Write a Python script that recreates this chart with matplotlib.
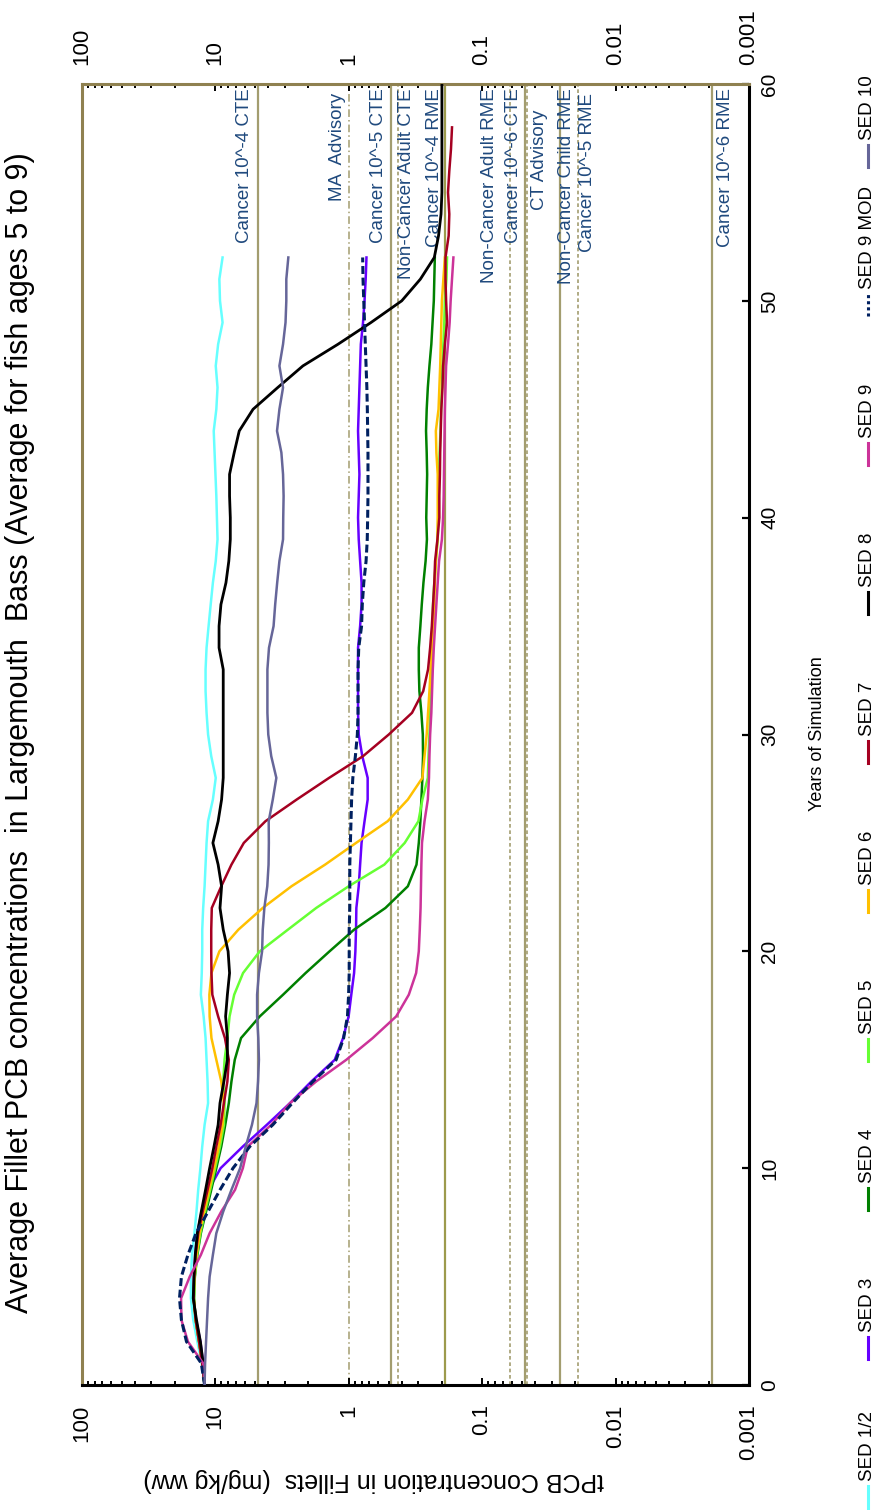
import numpy as np
import matplotlib
matplotlib.use("Agg")
import matplotlib.pyplot as plt
import matplotlib.ticker as mticker
from matplotlib.lines import Line2D

plt.rcParams['font.family'] = ['Liberation Sans', 'DejaVu Sans']

W, H = 894, 1510

years = np.arange(0, 53)
years_sed7 = np.arange(0, 59)
years_sed8 = np.arange(0, 61)

sed12 = [12, 12.6, 13.6, 14.6, 15.2, 15.2, 14.9, 14.3, 13.8, 13.4, 12.9, 12.5, 12.0, 11.3,
         11.4, 11.6, 11.8, 12.2, 12.8, 12.6, 12.5, 12.5, 12.3, 12.0, 11.8, 11.6, 11.3, 10.4,
         9.9, 10.7, 11.3, 11.6, 11.8, 11.8, 11.6, 11.2, 10.8, 10.4, 9.9, 9.6, 9.7, 9.8,
         9.95, 10.1, 10.25, 9.8, 9.6, 9.9, 9.5, 8.8, 9.2, 9.3, 8.8]
sed3 = [12, 12.3, 12.9, 13.9, 14.5, 14.4, 14.1, 13.6, 12.6, 11.2, 9.1, 6.2, 4.1, 2.75,
        1.9, 1.27, 1.10, 1.0, 0.955, 0.91, 0.89, 0.88, 0.875, 0.84, 0.82, 0.80, 0.76, 0.72,
        0.72, 0.79, 0.84, 0.85, 0.85, 0.85, 0.85, 0.82, 0.80, 0.80, 0.82, 0.84, 0.85, 0.84,
        0.83, 0.84, 0.85, 0.84, 0.83, 0.82, 0.81, 0.78, 0.76, 0.745, 0.735]
sed4 = [12, 12.5, 13.2, 14.0, 14.4, 14.2, 13.6, 12.8, 11.7, 10.7, 9.8, 9.0, 8.4, 7.9,
        7.55, 7.13, 6.4, 4.63, 3.1, 2.1, 1.39, 0.91, 0.53, 0.36, 0.31, 0.298, 0.29, 0.285,
        0.28, 0.277, 0.278, 0.285, 0.295, 0.298, 0.298, 0.29, 0.283, 0.275, 0.265, 0.259,
        0.262, 0.26, 0.258, 0.26, 0.263, 0.26, 0.255, 0.248, 0.24, 0.235, 0.23, 0.228, 0.226]
sed5 = [12, 12.5, 13.2, 14.0, 14.4, 14.2, 13.7, 12.9, 11.9, 10.9, 10.0, 9.2, 8.6, 8.5,
        8.7, 8.5, 8.1, 7.8, 7.2, 6.18, 4.63, 2.85, 1.75, 1.0, 0.54, 0.38, 0.30, 0.28,
        0.255, 0.252, 0.248, 0.245, 0.242, 0.24, 0.238, 0.236, 0.233, 0.228, 0.222, 0.215,
        0.213, 0.212, 0.21, 0.208, 0.205, 0.203, 0.2, 0.198, 0.195, 0.192, 0.19, 0.185, 0.183]
sed6 = [12, 12.5, 13.2, 14.0, 14.5, 14.3, 13.8, 13.1, 12.1, 11.1, 10.2, 9.4, 8.8, 8.6,
        9.0, 9.8, 10.66, 11.0, 11.05, 10.66, 9.3, 6.7, 4.4, 2.68, 1.5, 0.88, 0.51, 0.36,
        0.28, 0.27, 0.26, 0.254, 0.248, 0.243, 0.238, 0.233, 0.228, 0.226, 0.222, 0.216,
        0.215, 0.215, 0.215, 0.22, 0.222, 0.212, 0.209, 0.206, 0.204, 0.202, 0.2, 0.195, 0.19]
sed7 = [12, 12.5, 13.2, 14.0, 14.5, 14.4, 14.0, 13.4, 12.4, 11.4, 10.5, 9.8, 9.1, 8.6,
        8.1, 7.9, 8.45, 9.5, 10.5, 10.66, 10.7, 10.7, 10.6, 9.0, 7.55, 6.1, 4.2, 2.45,
        1.4, 0.78, 0.50, 0.335, 0.276, 0.254, 0.245, 0.238, 0.233, 0.228, 0.225, 0.216,
        0.209, 0.209, 0.207, 0.206, 0.204, 0.202, 0.198, 0.196, 0.19, 0.183, 0.186, 0.188,
        0.188, 0.178, 0.176, 0.18, 0.176, 0.171, 0.168]
sed8 = [12, 12.3, 12.9, 13.8, 14.6, 14.4, 14.1, 13.6, 12.7, 11.8, 11.0, 10.2, 9.5, 9.2,
        8.6, 8.1, 8.1, 8.35, 8.1, 7.8, 8.0, 8.7, 9.2, 8.95, 9.5, 10.4, 9.5, 8.95, 8.7, 8.7,
        8.7, 8.7, 8.7, 8.7, 9.35, 9.35, 9.05, 8.3, 7.9, 7.7, 7.7, 7.8, 7.8, 7.2, 6.6, 5.2,
        3.4, 2.2, 1.2, 0.68, 0.40, 0.29, 0.228, 0.212, 0.203, 0.2, 0.2, 0.2, 0.2, 0.2, 0.2]
sed9 = [12, 12.3, 16.0, 17.9, 18.0, 15.5, 12.8, 11.0, 9.0, 7.1, 6.2, 5.7, 3.8, 2.75,
        1.75, 1.04, 0.66, 0.44, 0.354, 0.312, 0.298, 0.293, 0.289, 0.287, 0.285, 0.282,
        0.27, 0.255, 0.25, 0.248, 0.245, 0.24, 0.237, 0.234, 0.23, 0.225, 0.22, 0.215, 0.21,
        0.2, 0.196, 0.194, 0.193, 0.192, 0.191, 0.19, 0.188, 0.186, 0.18, 0.175, 0.172,
        0.168, 0.164]
sed9mod = [12, 12.7, 16.4, 17.9, 18.5, 17.9, 16.0, 13.9, 11.3, 9.2, 7.35, 5.5, 3.7, 2.64,
           1.85, 1.24, 1.09, 1.02, 1.0, 0.99, 0.99, 0.99, 0.98, 0.98, 0.98, 0.97, 0.96, 0.95,
           0.93, 0.89, 0.86, 0.85, 0.85, 0.85, 0.84, 0.80, 0.79, 0.77, 0.74, 0.725, 0.72,
           0.716, 0.716, 0.716, 0.72, 0.724, 0.73, 0.74, 0.75, 0.76, 0.77, 0.78, 0.785]
sed10 = [12, 11.9, 11.7, 11.5, 11.3, 11.0, 10.4, 9.8, 8.7, 7.55, 6.5, 5.9, 5.3, 4.9,
         4.77, 4.7, 4.75, 4.85, 4.85, 4.7, 4.45, 4.4, 4.28, 4.07, 3.98, 3.96, 3.97, 3.7,
         3.48, 3.8, 4.0, 4.06, 4.06, 4.06, 3.95, 3.65, 3.55, 3.43, 3.3, 3.1, 3.09, 3.07,
         3.1, 3.19, 3.44, 3.3, 3.1, 3.3, 3.1, 2.97, 2.93, 2.93, 2.83]

# screening levels (mg/kg ww)
ref_values = [4.8, 1.0, 0.48, 0.43, 0.19, 0.062, 0.048, 0.046, 0.026, 0.019, 0.0019]
ref_styles = ['solid', 'dashdot', 'solid', 'dotted', 'solid', 'dotted', 'solid', 'dotted',
              'solid', 'dotted', 'solid']

ref_labels = ["Cancer 10^-4 CTE", "MA  Advisory", "Cancer 10^-5 CTE", "Non-Cancer Adult CTE",
              "Cancer 10^-4 RME", "Non-Cancer Adult RME", "Cancer 10^-6 CTE", "CT Advisory",
              "Non-Cancer Child RME", "Cancer 10^-5 RME", "Cancer 10^-6 RME"]
label_pos = [6.01, 1.21, 0.597, 0.369, 0.228, 0.0883, 0.0585, 0.0374, 0.0234, 0.0163, 0.00149]
label_top = [59.8, 59.6, 59.8, 59.8, 59.8, 59.8, 59.8, 58.8, 59.8, 59.6, 59.8]

x_ticks = [100, 10, 1, 0.1, 0.01, 0.001]
x_ticklabels = ['100', '10', '1', '0.1', '0.01', '0.001']
y_ticks = [0, 10, 20, 30, 40, 50, 60]

series = [
    ("SED 1/2", years, sed12, "#66ffff", "-"),
    ("SED 3", years, sed3, "#6600ff", "-"),
    ("SED 4", years, sed4, "#008000", "-"),
    ("SED 5", years, sed5, "#66ff33", "-"),
    ("SED 6", years, sed6, "#ffc000", "-"),
    ("SED 7", years_sed7, sed7, "#a50021", "-"),
    ("SED 8", years_sed8, sed8, "#000000", "-"),
    ("SED 9", years, sed9, "#cc3399", "-"),
    ("SED 9 MOD", years, sed9mod, "#002060", "--"),
    ("SED 10", years, sed10, "#666699", "-"),
]

OLIVE = "#a39d6f"
TXT = "#1f497d"

fig = plt.figure(figsize=(W / 100, H / 100), dpi=100)
ax = fig.add_axes([81.7 / W, (H - 1385) / H, (749 - 81.7) / W, (1385 - 84) / H])

for v, st in zip(ref_values, ref_styles):
    if st == 'dotted':
        ax.axvline(v, color=OLIVE, lw=1.2, ls=(0, (2.2, 1.6)), zorder=1)
    elif st == 'dashdot':
        ax.axvline(v, color=OLIVE, lw=1.1, ls=(0, (5, 2, 1, 2)), zorder=1)
    else:
        c = "#9c9a4c" if v == 0.19 else OLIVE
        ax.axvline(v, color=c, lw=1.6, zorder=1)

for txt, xv, yt in zip(ref_labels, label_pos, label_top):
    ax.text(xv, yt, txt, rotation=90, ha='center', va='top', color=TXT, fontsize=13.5,
            zorder=2)

for name, yr, vals, col, ls in series:
    if ls == "--":
        ax.plot(vals, yr, color=col, lw=2.2, dashes=(2.6, 1.2), zorder=3)
    else:
        lw = 2.0 if col == "#000000" else 1.8
        ax.plot(vals, yr, color=col, lw=lw, zorder=3)

ax.set_xscale('log')
ax.set_xlim(100, 0.001)
ax.set_ylim(0, 60)

ax.xaxis.set_major_locator(mticker.FixedLocator(x_ticks))
ax.xaxis.set_major_formatter(mticker.FixedFormatter(x_ticklabels))
ax.xaxis.set_minor_locator(mticker.LogLocator(base=10, subs=np.arange(2, 10)))
ax.xaxis.set_minor_formatter(mticker.NullFormatter())
ax.tick_params(axis='x', which='both', direction='in', top=True, bottom=True,
               labeltop=True, labelbottom=True, colors='black', width=1.4)
ax.tick_params(axis='x', which='major', length=5, pad=14, labelsize=16, labelrotation=90)
ax.tick_params(axis='x', which='minor', length=3)

ax.set_yticks(y_ticks)
ax.tick_params(axis='y', which='both', left=False, labelleft=False, right=True,
               labelright=True, direction='in', length=5, width=1.6, pad=8,
               labelsize=15, labelrotation=90)
for lab in ax.get_yticklabels():
    lab.set_va('center')

for side in ('left', 'top'):
    ax.spines[side].set_color("#8f8150")
    ax.spines[side].set_linewidth(2.2)
for side in ('bottom', 'right'):
    ax.spines[side].set_color("black")
    ax.spines[side].set_linewidth(2.2)


def fx(x):
    return x / W


def fy(y):
    return 1 - y / H


fig.text(fx(20), fy(733), "Average Fillet PCB concentrations  in Largemouth  Bass "
         "(Average for fish ages 5 to 9)", rotation=90, ha='center', va='center',
         fontsize=22)
fig.text(fx(818), fy(734), "Years of Simulation", rotation=90, ha='center', va='center',
         fontsize=13)
fig.text(fx(374), fy(1480), "tPCB Concentration in Fillets  (mg/kg ww)", rotation=180,
         ha='center', va='center', fontsize=18)

# legend laid out like the spreadsheet one: evenly spaced entries, read bottom to top
leg_x = 868
leg_start = 1508
pitch = 149
mark_len = 22
for i, (name, yr, vals, col, ls) in enumerate(series):
    y0 = leg_start - i * pitch
    if ls == "--":
        fig.add_artist(Line2D([fx(leg_x), fx(leg_x)], [fy(y0), fy(y0 - mark_len)],
                              color=col, lw=2.2, dashes=(1, 1)))
    else:
        fig.add_artist(Line2D([fx(leg_x), fx(leg_x)], [fy(y0), fy(y0 - mark_len)],
                              color=col, lw=2.2))
    fig.text(fx(leg_x), fy(y0 - mark_len - 5), name, rotation=90, ha='center',
             va='bottom', fontsize=13.5)

fig.savefig("out.png", dpi=100)
